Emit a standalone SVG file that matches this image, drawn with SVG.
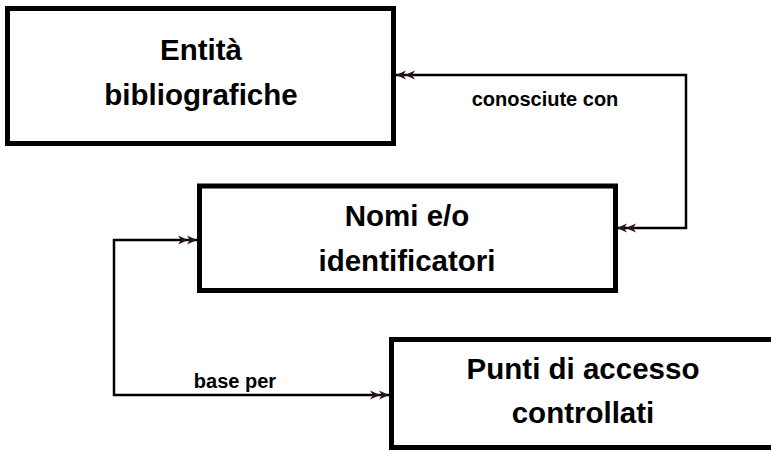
<svg xmlns="http://www.w3.org/2000/svg" width="771" height="450" viewBox="0 0 771 450">
<defs>
<style>
.box{fill:#fff;stroke:#000;stroke-width:5}
.t{font-family:"Liberation Sans",Arial,sans-serif;font-weight:bold;font-size:29.5px;fill:#000;text-anchor:middle}
.lbl{font-family:"Liberation Sans",Arial,sans-serif;font-weight:bold;font-size:20px;fill:#000;text-anchor:middle}
.conn{fill:none;stroke:#000;stroke-width:2.5}
</style>
<marker id="dbl" markerUnits="userSpaceOnUse" markerWidth="24" markerHeight="12" viewBox="-20 -6 24 12" refX="0" refY="0" orient="auto-start-reverse">
<path d="M0,0 L-10,-4.5 L-7,0 L-10,4.5 Z M-9,0 L-19,-4.5 L-16,0 L-19,4.5 Z" fill="#2a1414"/>
</marker>
</defs>
<rect width="771" height="450" fill="#fff"/>
<g id="connectors">
<path class="conn" d="M617,228 H686 V75 H396" marker-start="url(#dbl)" marker-end="url(#dbl)"/>
<path class="conn" d="M197,240 H114 V395 H389" marker-start="url(#dbl)" marker-end="url(#dbl)"/>
<text class="lbl" x="545" y="106">conosciute con</text>
<text class="lbl" x="235" y="388">base per</text>
</g>
<g id="node-entita">
<rect class="box" x="7.5" y="8.5" width="386" height="135"/>
<text class="t" x="201" y="60">Entità</text>
<text class="t" x="201" y="105">bibliografiche</text>
</g>
<g id="node-nomi">
<rect class="box" x="199.5" y="186" width="416" height="104.5"/>
<text class="t" x="407" y="226">Nomi e/o</text>
<text class="t" x="407" y="271">identificatori</text>
</g>
<g id="node-punti">
<rect class="box" x="391.5" y="339.5" width="400" height="108"/>
<text class="t" x="583" y="379">Punti di accesso</text>
<text class="t" x="583" y="423">controllati</text>
</g>
</svg>
